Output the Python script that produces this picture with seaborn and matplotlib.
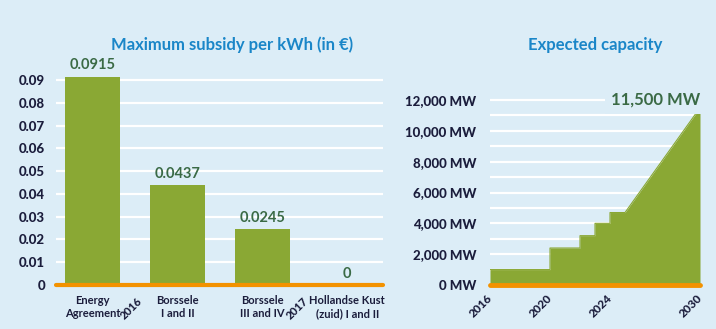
import matplotlib
matplotlib.use("Agg")
import matplotlib.pyplot as plt
import seaborn as sns
import pandas as pd

# ---- data ----
projects = ["Energy\nAgreement", "Borssele\nI and II", "Borssele\nIII and IV", "Hollandse Kust\n(zuid) I and II"]
subsidy = [0.0915, 0.0437, 0.0245, 0.0]
subsidy_labels = ["0.0915", "0.0437", "0.0245", "0"]
subsidy_ticks = [0, 0.01, 0.02, 0.03, 0.04, 0.05, 0.06, 0.07, 0.08, 0.09]
year_marks = ["2016", "2017"]

cap_years = [2016, 2020, 2020, 2022, 2022, 2023, 2023, 2024, 2024, 2025, 2030]
cap_mw = [1000, 1000, 2400, 2400, 3200, 3200, 4000, 4000, 4700, 4700, 11500]
cap_ticks = [0, 2000, 4000, 6000, 8000, 10000, 12000]
cap_year_labels = [2016, 2020, 2024, 2030]
cap_end_label = "11,500 MW"

# ---- style ----
BG = "#dcedf7"
GREEN = "#8aa834"
ORANGE = "#f39200"
NAVY = "#1b1d3c"
DGREEN = "#3a6a45"
BLUE = "#1a86c8"

sns.set_style("white")
plt.rcParams["font.family"] = ["Lato", "DejaVu Sans"]

W, H = 716, 329
fig = plt.figure(figsize=(W / 100, H / 100), dpi=100, facecolor=BG)

def box(x0, x1, ybot, ytop):
    return [x0 / W, (H - ybot) / H, (x1 - x0) / W, (ybot - ytop) / H]

# ---------------- left chart ----------------
ax1 = fig.add_axes(box(56, 383, 285, 57.2))
ax1.set_facecolor(BG)
df = pd.DataFrame({"project": projects, "subsidy": subsidy})
sns.barplot(data=df, x="project", y="subsidy", order=projects, color=GREEN,
            width=0.65, saturation=1, ax=ax1)
for p in ax1.patches:
    p.set_edgecolor("none")
ax1.set_xlim(-0.43, 3.42)
ax1.set_ylim(0, 0.1)
for t in subsidy_ticks[1:]:
    ax1.axhline(t, color="white", lw=1.6, zorder=0)
ax1.axhline(0, color=ORANGE, lw=3, zorder=5, clip_on=False)
for c, lab in zip(ax1.containers, [subsidy_labels]):
    ax1.bar_label(c, labels=lab, padding=3, color=DGREEN, fontsize=10.5,
                  fontweight="bold")
ax1.set_yticks(subsidy_ticks)
ax1.set_yticklabels(["0" if v == 0 else f"{v:.2f}" for v in subsidy_ticks],
                    fontsize=9.5, fontweight=900, color=NAVY)
ax1.tick_params(axis="y", length=0, pad=8)
ax1.tick_params(axis="x", which="major", length=0, pad=7)
ax1.set_xticks(range(len(projects)))
ax1.set_xticklabels(projects, fontsize=8, fontweight="bold", color=NAVY,
                    linespacing=1.3)
year_pos = [0.55, 2.5]
ax1.set_xticks([-0.43] + year_pos, minor=True)
ax1.tick_params(axis="x", which="minor", length=7, width=1.5, color=ORANGE,
                direction="out")
ax1.set_xlabel("")
ax1.set_ylabel("")
for s in ax1.spines.values():
    s.set_visible(False)
for xpos, lab in zip(year_pos, year_marks):
    ax1.annotate(lab, xy=(xpos, 0), xycoords=("data", "data"),
                 xytext=(1, -10.5), textcoords="offset points",
                 rotation=45, rotation_mode="anchor", ha="right", va="center",
                 fontsize=8, fontweight=900, color=NAVY, annotation_clip=False)
fig.text(232 / W, 1 - 45 / H, "Maximum subsidy per kWh (in €)", ha="center",
         va="center", fontsize=12, fontweight="bold", color=BLUE)

# ---------------- right chart ----------------
ax2 = fig.add_axes(box(490, 700, 285, 92.3))
ax2.set_facecolor(BG)
ax2.set_xlim(2016, 2030)
ax2.set_ylim(0, 12500)
for t in range(1000, 12001, 1000):
    ax2.axhline(t, color="white", lw=1.6, zorder=0)
ax2.fill_between(cap_years, cap_mw, 0, color=GREEN, lw=0, zorder=2)
sns.lineplot(x=cap_years, y=cap_mw, estimator=None, sort=False, color=GREEN,
             lw=0.8, ax=ax2, zorder=3)
ax2.axhline(0, color=ORANGE, lw=3.5, zorder=5, clip_on=False)
ax2.set_yticks(cap_ticks)
ax2.set_yticklabels([f"{v:,} MW" for v in cap_ticks], fontsize=9.5,
                    fontweight=900, color=NAVY)
ax2.tick_params(axis="y", length=0, pad=10)
yrs = list(range(2016, 2031))
ax2.set_xticks(yrs)
ax2.set_xticklabels([str(y) if y in cap_year_labels else "" for y in yrs])
ax2.tick_params(axis="x", length=5, width=1.4, color=ORANGE, direction="out", pad=3)
for lbl in ax2.get_xticklabels():
    lbl.set_rotation(45)
    lbl.set_rotation_mode("anchor")
    lbl.set_ha("right")
    lbl.set_va("center")
    lbl.set_fontsize(8.5)
    lbl.set_fontweight(900)
    lbl.set_color(NAVY)
ax2.set_xlabel("")
ax2.set_ylabel("")
for s in ax2.spines.values():
    s.set_visible(False)
ax2.text(2030, 12000, cap_end_label, ha="right", va="center", fontsize=12,
         fontweight="bold", color=DGREEN, zorder=6,
         bbox=dict(facecolor=BG, edgecolor="none", pad=4))
fig.text(595 / W, 1 - 45 / H, "Expected capacity", ha="center", va="center",
         fontsize=12, fontweight="bold", color=BLUE)

fig.savefig("out.png", dpi=100, facecolor=BG)
